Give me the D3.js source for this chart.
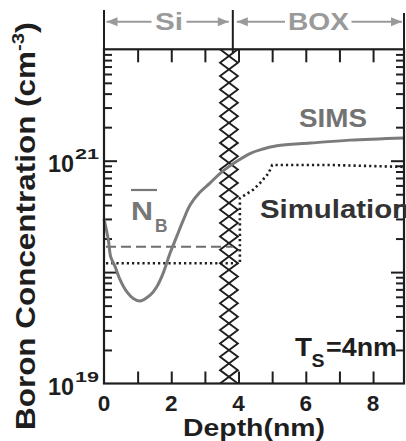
<!DOCTYPE html>
<html>
<head>
<meta charset="utf-8">
<script src="https://cdn.jsdelivr.net/npm/d3@7"></script>
<style>
  html, body { margin: 0; padding: 0; background: #fff; }
  svg { display: block; }
  text { font-family: "Liberation Sans", Arial, sans-serif; font-weight: bold; }
</style>
</head>
<body>
<svg id="chart" width="406" height="441"></svg>
<script>
// Boron profile measured by SIMS (depth in nm, concentration in cm^-3)
const simsDepth = [0, 0.13, 0.2, 0.33, 0.48, 0.67, 0.87, 1.07, 1.37, 1.57, 1.76, 1.96, 2.16, 2.36, 2.56, 2.85, 3.15, 3.54, 3.95, 4.34, 4.64, 5.14, 6.13, 7.31, 8.92];
const simsConc  = [3.0e20, 1.94e20, 1.37e20, 1.12e20, 8.5e19, 6.7e19, 5.8e19, 5.5e19, 6.2e19, 7.4e19, 9.8e19, 1.47e20, 2.08e20, 2.94e20, 4.0e20, 5.2e20, 6.3e20, 8.1e20, 9.9e20, 1.16e21, 1.25e21, 1.36e21, 1.44e21, 1.53e21, 1.60e21];

// Simulated profile: flat mean level in Si, then the rise into the BOX
const simDepth = [0.06, 4.04, 4.04, 4.44, 4.64, 4.89, 5.0, 6.72, 8.92];
const simConc  = [1.2e20, 1.2e20, 4.6e20, 5.5e20, 6.3e20, 7.7e20, 9.15e20, 9.15e20, 8.8e20];

// Mean boron level in Si from SIMS (N_B bar)
const nbDepth = [0.06, 3.83];
const nbConc  = [1.69e20, 1.69e20];

// Interface band and Si/BOX boundary (nm)
const bandDepth = [3.45, 3.98];
const boundaryDepth = 3.83;

const xTicks = [1, 2, 3, 4, 5, 6, 7, 8];
const xLabels = [0, 2, 4, 6, 8];
const yLabels = [{v: 1e19, exp: "19"}, {v: 1e21, exp: "21"}];

const svg = d3.select("#chart");
const ink = "#1e1e1e";

const x = d3.scaleLinear().domain([0, 8.92]).range([104, 404]);
const y = d3.scaleLog().domain([1e19, 1e22]).range([383.5, 49.3]);
const [x0, x1] = x.range();
const [yb, yt] = y.range();

// log ticks: majors at decades, minors at 2..9
const yMajor = [1e20, 1e21];
const yMinor = [];
for (let e = 19; e < 22; e++) for (let m = 2; m <= 9; m++) yMinor.push(m * Math.pow(10, e));

function styleAxis(g) {
  g.select(".domain").remove();
  g.selectAll(".tick line").attr("stroke", ink).attr("stroke-width", 2);
}

// bottom axis (ticks inward) with labels
svg.append("g").attr("transform", `translate(0,${yb})`)
  .call(d3.axisBottom(x).tickValues(xTicks).tickSize(-12).tickFormat(""))
  .call(styleAxis);
svg.append("g").selectAll("text").data(xLabels).join("text")
  .attr("x", d => x(d)).attr("y", 410.5)
  .attr("text-anchor", "middle").attr("font-size", 22.5).attr("fill", ink)
  .text(d => d);

// top axis (ticks inward)
svg.append("g").attr("transform", `translate(0,${yt})`)
  .call(d3.axisTop(x).tickValues(xTicks).tickSize(-13).tickFormat(""))
  .call(styleAxis);

// left and right axes
svg.append("g").attr("transform", `translate(${x0},0)`)
  .call(d3.axisLeft(y).tickValues(yMinor).tickSize(-8).tickFormat(""))
  .call(styleAxis);
svg.append("g").attr("transform", `translate(${x0},0)`)
  .call(d3.axisLeft(y).tickValues(yMajor).tickSize(-13).tickFormat(""))
  .call(styleAxis);
svg.append("g").attr("transform", `translate(${x1},0)`)
  .call(d3.axisRight(y).tickValues(yMinor).tickSize(-8).tickFormat(""))
  .call(styleAxis);
svg.append("g").attr("transform", `translate(${x1},0)`)
  .call(d3.axisRight(y).tickValues(yMajor).tickSize(-13).tickFormat(""))
  .call(styleAxis);

// y tick labels 10^n
const yl = svg.append("g").selectAll("g").data(yLabels).join("g");
yl.append("text").attr("x", 74).attr("y", d => y(d.v) + 11.5)
  .attr("text-anchor", "end").attr("font-size", 24).attr("fill", ink)
  .attr("textLength", 26).attr("lengthAdjust", "spacingAndGlyphs").text("10");
yl.append("text").attr("x", 75).attr("y", d => y(d.v) - 2)
  .attr("font-size", 15).attr("fill", ink)
  .attr("textLength", 24).attr("lengthAdjust", "spacingAndGlyphs").text(d => d.exp);

// interface band: two interleaved zigzags forming stacked X marks
const bx0 = x(bandDepth[0]), bx1 = x(bandDepth[1]);
const period = (yb - yt) / 25;
function zigzag(startLeft) {
  const pts = [];
  for (let i = 0; i <= 25; i++) {
    const left = (i % 2 === 0) === startLeft;
    pts.push([left ? bx0 : bx1, yt + i * period]);
  }
  return pts;
}
const band = svg.append("g");
band.append("path").attr("d", d3.line()(zigzag(true)))
  .attr("fill", "none").attr("stroke", ink).attr("stroke-width", 1.9);
band.append("path").attr("d", d3.line()(zigzag(false)))
  .attr("fill", "none").attr("stroke", ink).attr("stroke-width", 1.9);

// N_B mean (dashed) and simulated profile (dotted)
const line = d3.line().x(d => x(d[0])).y(d => y(d[1]));
svg.append("path").attr("d", line(d3.zip(nbDepth, nbConc)))
  .attr("fill", "none").attr("stroke", "#6e6e6e").attr("stroke-width", 2)
  .attr("stroke-dasharray", "10,5");
svg.append("path").attr("d", line(d3.zip(simDepth, simConc)))
  .attr("fill", "none").attr("stroke", ink).attr("stroke-width", 2.6)
  .attr("stroke-dasharray", "2.2,3");

// SIMS profile
svg.append("path")
  .attr("d", d3.line().x(d => x(d[0])).y(d => y(d[1])).curve(d3.curveCatmullRom)(d3.zip(simsDepth, simsConc)))
  .attr("fill", "none").attr("stroke", "#7b7b7b").attr("stroke-width", 3);

// frame
svg.append("rect").attr("x", x0).attr("y", yt).attr("width", x1 - x0).attr("height", yb - yt)
  .attr("fill", "none").attr("stroke", ink).attr("stroke-width", 2.2);

// region header above the plot
const grey = "#9a9a9a";
const xb = x(boundaryDepth);
svg.append("line").attr("x1", x0).attr("x2", x0).attr("y1", 10).attr("y2", yt).attr("stroke", ink).attr("stroke-width", 2);
svg.append("line").attr("x1", x1).attr("x2", x1).attr("y1", 13).attr("y2", yt).attr("stroke", ink).attr("stroke-width", 2);
svg.append("line").attr("x1", xb).attr("x2", xb).attr("y1", 10).attr("y2", yt + 4).attr("stroke", ink).attr("stroke-width", 2);

const ay = 21.7;
function arrowSeg(xa, xbEnd, headAtStart) {
  svg.append("line").attr("x1", xa).attr("x2", xbEnd).attr("y1", ay).attr("y2", ay)
    .attr("stroke", grey).attr("stroke-width", 2);
  const tip = headAtStart ? xa : xbEnd;
  const dir = headAtStart ? 1 : -1;
  svg.append("path")
    .attr("d", `M${tip},${ay} L${tip + dir * 11},${ay - 4.5} L${tip + dir * 11},${ay + 4.5} Z`)
    .attr("fill", grey);
}
arrowSeg(x0 + 2.5, 151.5, true);
arrowSeg(186.5, xb - 4, false);
arrowSeg(xb + 4, 285, true);
arrowSeg(351.5, x1 - 2, false);
svg.append("text").attr("x", 155).attr("y", 30).attr("font-size", 24).attr("fill", grey)
  .attr("textLength", 28).attr("lengthAdjust", "spacingAndGlyphs").text("Si");
svg.append("text").attr("x", 288).attr("y", 30).attr("font-size", 24).attr("fill", grey)
  .attr("textLength", 61).attr("lengthAdjust", "spacingAndGlyphs").text("BOX");

// series and annotation labels
svg.append("text").attr("x", 299).attr("y", 126.7).attr("font-size", 25).attr("fill", "#737373")
  .attr("textLength", 68).attr("lengthAdjust", "spacingAndGlyphs").text("SIMS");
svg.append("text").attr("x", 260).attr("y", 218).attr("font-size", 25).attr("fill", "#333")
  .attr("textLength", 150).attr("lengthAdjust", "spacingAndGlyphs").text("Simulation");

svg.append("line").attr("x1", 131).attr("x2", 157).attr("y1", 190).attr("y2", 190)
  .attr("stroke", "#777").attr("stroke-width", 2.2);
svg.append("text").attr("x", 131).attr("y", 220).attr("font-size", 25).attr("fill", "#777")
  .attr("textLength", 22).attr("lengthAdjust", "spacingAndGlyphs").text("N");
svg.append("text").attr("x", 155).attr("y", 231.7).attr("font-size", 19).attr("fill", "#777")
  .attr("textLength", 12.5).attr("lengthAdjust", "spacingAndGlyphs").text("B");

svg.append("text").attr("x", 295).attr("y", 356).attr("font-size", 25).attr("fill", ink)
  .attr("textLength", 17).attr("lengthAdjust", "spacingAndGlyphs").text("T");
svg.append("text").attr("x", 311.5).attr("y", 366.5).attr("font-size", 18).attr("fill", ink)
  .attr("textLength", 13).attr("lengthAdjust", "spacingAndGlyphs").text("S");
svg.append("text").attr("x", 326).attr("y", 356).attr("font-size", 25).attr("fill", ink)
  .attr("textLength", 71).attr("lengthAdjust", "spacingAndGlyphs").text("=4nm");

// axis titles
svg.append("text").attr("x", 254).attr("y", 435.5).attr("text-anchor", "middle")
  .attr("font-size", 24.5).attr("fill", ink)
  .attr("textLength", 142).attr("lengthAdjust", "spacingAndGlyphs").text("Depth(nm)");

const yt2 = svg.append("text").attr("transform", "translate(35,430) rotate(-90)")
  .attr("font-size", 27).attr("fill", ink);
yt2.append("tspan").attr("textLength", 379).attr("lengthAdjust", "spacingAndGlyphs")
  .text("Boron Concentration (cm");
yt2.append("tspan").attr("font-size", 17).attr("dy", -11)
  .attr("textLength", 18).attr("lengthAdjust", "spacingAndGlyphs").text("-3");
yt2.append("tspan").attr("dy", 11)
  .attr("textLength", 11).attr("lengthAdjust", "spacingAndGlyphs").text(")");
</script>
</body>
</html>
